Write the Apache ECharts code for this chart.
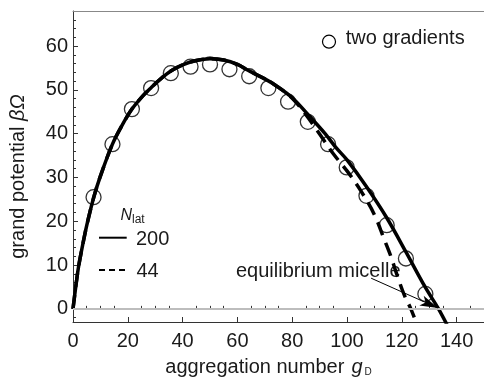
<!DOCTYPE html>
<html><head><meta charset="utf-8">
<script src="https://cdn.jsdelivr.net/npm/echarts@6/dist/echarts.min.js"></script>
<style>html,body{margin:0;padding:0;background:#fff}#c{width:484px;height:386px}</style>
</head><body><div id="c"></div>
<script>
const xTicks = [0, 20, 40, 60, 80, 100, 120, 140];
const xMinor = [5, 10, 15, 25, 30, 35, 45, 50, 55, 65, 70, 75, 85, 90, 95, 105, 110, 115, 125, 130, 135, 145];
const yTicks = [0, 10, 20, 30, 40, 50, 60];
const yMinor = [-2, 2, 4, 6, 8, 12, 14, 16, 18, 22, 24, 26, 28, 32, 34, 36, 38, 42, 44, 46, 48, 52, 54, 56, 58, 62, 64, 66];

// N_lat = 200 (solid)
const solid200 = [[0,0],[1,5],[2,9.5],[3.5,14.5],[5,19],[7.5,25.3],[10,30.3],[14.4,37.6],[18,42],[21.5,45.6],[25,48.3],[28.5,50.5],[32,52.5],[36,54.4],[40,55.7],[45,56.7],[50,57.1],[55,56.8],[60,55.8],[64,54.4],[70,52.5],[74,51],[80,48.2],[86,44.2],[92,40],[96,36.8],[100,34],[107,28],[114.5,20.8],[121.5,13],[128.5,5],[133.4,0],[136.8,-4]];
// N_lat = 44 (dashed)
const dashed44 = [[0,0],[1,5],[2,9.5],[3.5,14.5],[5,19],[7.5,25.3],[10,30.3],[14.4,37.6],[18,42],[21.5,45.6],[25,48.3],[28.5,50.5],[32,52.5],[36,54.4],[40,55.7],[45,56.7],[50,57.1],[55,56.8],[60,55.8],[64,54.4],[70,52.5],[74,51],[80,48.1],[85,44.3],[90,39.9],[95,35.4],[100,31.5],[105,27],[110,21.5],[113.5,16],[116,12],[118,8.2],[121,3],[123.3,0],[125.8,-4]];
// two gradients (open circles)
const twoGradients = [[7.5,25.5],[14.4,37.6],[21.5,45.6],[28.5,50.4],[35.7,53.8],[42.9,55.3],[50,55.8],[57.1,54.7],[64.3,53.1],[71.3,50.4],[78.5,47.3],[85.7,42.7],[93.1,37.6],[99.9,32.3],[107.1,25.8],[114.5,19.1],[121.5,11.5],[128.6,3.4]];
const arrowFrom = [108.8, 7.0];
const arrowTo = [133.2, 0.2];

const FF = "'Liberation Sans', Arial, sans-serif";
const TC = '#1a1a1a';
const AX = '#333';

const chart = echarts.init(document.getElementById('c'), null, {renderer: 'canvas'});

const baseX = {type: 'value', min: 0, max: 150, splitLine: {show: false}};
const baseY = {type: 'value', min: -3, max: 68, position: 'left', splitLine: {show: false}};

chart.setOption({
  animation: false,
  backgroundColor: '#fff',
  grid: {left: 73, top: 11, width: 413.4, height: 311, show: false},
  xAxis: [
    Object.assign({}, baseX, {
      position: 'bottom',
      axisLine: {show: true, onZero: false, lineStyle: {color: AX, width: 1}},
      axisTick: {show: true, inside: true, length: 5, customValues: xTicks, lineStyle: {color: AX}},
      axisLabel: {show: true, customValues: xTicks, margin: 9, color: TC, fontSize: 20, fontFamily: FF}
    }),
    Object.assign({}, baseX, {
      position: 'bottom',
      axisLine: {show: false},
      axisTick: {show: true, inside: true, length: 3, customValues: xMinor, lineStyle: {color: AX}},
      axisLabel: {show: false}
    }),
    Object.assign({}, baseX, {
      position: 'top',
      axisLine: {show: true, onZero: false, lineStyle: {color: '#888', width: 1}},
      axisTick: {show: false},
      axisLabel: {show: false}
    })
  ],
  yAxis: [
    Object.assign({}, baseY, {
      axisLine: {show: true, onZero: false, lineStyle: {color: AX, width: 1}},
      axisTick: {show: true, inside: true, length: 5, customValues: yTicks, lineStyle: {color: AX}},
      axisLabel: {show: true, customValues: yTicks, margin: 5, color: TC, fontSize: 20, fontFamily: FF}
    }),
    Object.assign({}, baseY, {
      axisLine: {show: false},
      axisTick: {show: true, inside: true, length: 3, customValues: yMinor, lineStyle: {color: AX}},
      axisLabel: {show: false}
    })
  ],
  series: [
    {
      type: 'line', data: [], xAxisIndex: 0, yAxisIndex: 0, silent: true, z: 1,
      markLine: {silent: true, symbol: 'none', label: {show: false},
        lineStyle: {color: '#bdbdbd', width: 2, type: 'solid'},
        data: [{yAxis: 0}]}
    },
    {
      name: '200', type: 'line', data: solid200, showSymbol: false, smooth: 0.35, z: 3,
      lineStyle: {color: '#000', width: 3.5, cap: 'butt'}
    },
    {
      name: '44', type: 'line', data: dashed44, showSymbol: false, smooth: 0.35, z: 3,
      lineStyle: {color: '#000', width: 3.5, type: [14, 8], cap: 'butt'}
    },
    {
      name: 'two gradients', type: 'scatter', data: twoGradients, symbol: 'circle', symbolSize: 15, z: 4,
      itemStyle: {color: 'rgba(0,0,0,0)', borderColor: '#000', borderWidth: 1.3},
      markLine: {silent: true, animation: false, label: {show: false},
        lineStyle: {color: '#000', width: 1, type: 'solid'},
        data: [[{coord: arrowFrom, symbol: 'none'}, {coord: arrowTo, symbol: 'arrow', symbolSize: [8, 18]}]]}
    }
  ],
  graphic: [
    {type: 'text', x: 165.3, y: 367.4, style: {text: 'aggregation number ', font: '20px ' + FF, fill: TC, textVerticalAlign: 'middle', textAlign: 'left'}},
    {type: 'text', x: 351.5, y: 367.4, style: {text: 'g', font: 'italic 20px ' + FF, fill: TC, textVerticalAlign: 'middle', textAlign: 'left'}},
    {type: 'text', x: 364.5, y: 372.5, style: {text: 'D', font: '10px ' + FF, fill: TC, textVerticalAlign: 'middle', textAlign: 'left'}},
    {type: 'text', x: 18, y: 176.5, rotation: Math.PI / 2,
      style: {text: '{n|grand potential }{i|βΩ}', fill: TC, textVerticalAlign: 'middle', textAlign: 'center',
        rich: {n: {fontSize: 20, fontFamily: FF, fill: TC}, i: {fontSize: 20, fontFamily: FF, fontStyle: 'italic', fill: TC}}}},
    {type: 'circle', shape: {cx: 329, cy: 41.7, r: 6.5}, style: {fill: 'none', stroke: '#000', lineWidth: 1.2}},
    {type: 'text', x: 345.7, y: 38.8, style: {text: 'two gradients', font: '20px ' + FF, fill: TC, textVerticalAlign: 'middle'}},
    {type: 'text', x: 120.5, y: 215.5, style: {text: 'N', font: 'italic 16px ' + FF, fill: TC, textVerticalAlign: 'middle'}},
    {type: 'text', x: 132, y: 219.2, style: {text: 'lat', font: '12px ' + FF, fill: TC, textVerticalAlign: 'middle'}},
    {type: 'line', shape: {x1: 99, y1: 237.7, x2: 126.7, y2: 237.7}, style: {stroke: '#000', lineWidth: 2}},
    {type: 'text', x: 136, y: 239, style: {text: '200', font: '20px ' + FF, fill: TC, textVerticalAlign: 'middle'}},
    {type: 'line', shape: {x1: 99, y1: 270, x2: 125, y2: 270}, style: {stroke: '#000', lineWidth: 2, lineDash: [6, 4]}},
    {type: 'text', x: 136.5, y: 271.4, style: {text: '44', font: '20px ' + FF, fill: TC, textVerticalAlign: 'middle'}},
    {type: 'text', x: 236, y: 271.4, style: {text: 'equilibrium micelle', font: '20px ' + FF, fill: TC, textVerticalAlign: 'middle'}}
  ]
});
</script>
</body></html>
